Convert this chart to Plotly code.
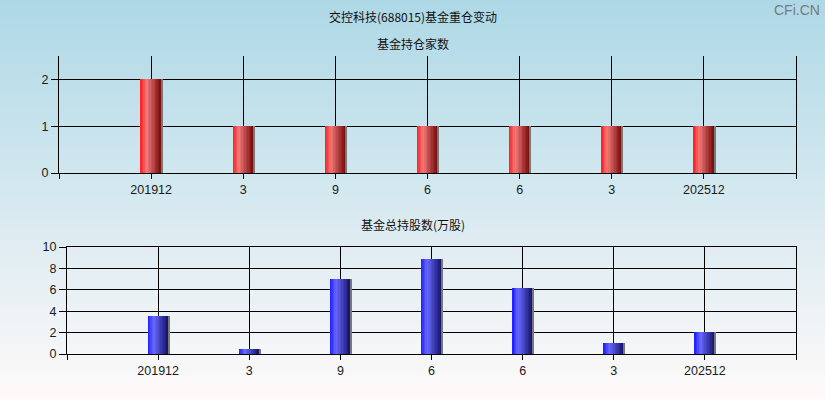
import plotly.graph_objects as go

# ---------------- data ----------------
categories = ["201912", "3", "9", "6", "6", "3", "202512"]
fund_count = [2, 1, 1, 1, 1, 1, 1]
fund_shares = [3.56, 0.47, 7.03, 8.9, 6.19, 1.03, 2.06]
count_ticks = [0, 1, 2]
shares_ticks = [0, 2, 4, 6, 8, 10]

main_title = "交控科技(688015)基金重仓变动"
title_top = "基金持仓家数"
title_bottom = "基金总持股数(万股)"
watermark = "CFi.CN"

# ---------------- styling helpers ----------------
positions = list(range(1, len(categories) + 1))
tickvals_x = list(range(0, len(categories) + 2))
ticktext_x = [""] + categories + [""]

BAR_W = 0.22
N_SLICES = 14


def lerp(c1, c2, t):
    return tuple(int(round(a + (b - a) * t)) for a, b in zip(c1, c2))


def grad_color(stops, t):
    for (p0, c0), (p1, c1) in zip(stops, stops[1:]):
        if p0 <= t <= p1:
            return lerp(c0, c1, (t - p0) / (p1 - p0))
    return stops[-1][1]


red_stops = [(0.0, (255, 25, 25)), (0.3, (242, 122, 122)), (1.0, (118, 10, 10))]
blue_stops = [(0.0, (25, 25, 255)), (0.3, (105, 105, 255)), (1.0, (18, 18, 105))]

fig = go.Figure()


def add_grad_bars(values, stops, xa, ya):
    w = BAR_W / N_SLICES
    for i in range(N_SLICES):
        t = (i + 0.5) / N_SLICES
        r, g, b = grad_color(stops, t)
        fig.add_trace(go.Bar(
            x=positions, y=values, width=w * 1.15, offset=-BAR_W / 2 + i * w,
            marker=dict(color=f"rgb({r},{g},{b})", line=dict(width=0)),
            xaxis=xa, yaxis=ya, showlegend=False, hoverinfo="skip"))
    # thin grey shadow on the right edge
    fig.add_trace(go.Bar(
        x=positions, y=values, width=0.016, offset=BAR_W / 2,
        marker=dict(color="rgb(120,120,120)", line=dict(width=0)),
        xaxis=xa, yaxis=ya, showlegend=False, hoverinfo="skip"))


add_grad_bars(fund_count, red_stops, "x", "y")
add_grad_bars(fund_shares, blue_stops, "x2", "y2")

# ---------------- background gradient ----------------
shapes = []
N_BG = 80
top_c = (173, 216, 230)
bot_c = (255, 250, 250)
for i in range(N_BG):
    t = (i + 0.5) / N_BG
    r, g, b = lerp(top_c, bot_c, t)
    shapes.append(dict(type="rect", xref="paper", yref="paper",
                       x0=0, x1=1, y0=1 - (i + 1) / N_BG - 0.001, y1=1 - i / N_BG,
                       fillcolor=f"rgb({r},{g},{b})", line=dict(width=0),
                       layer="below"))

tick_font = dict(family="Liberation Sans, Arial, sans-serif", size=12.5, color="#1a1a1a")
cjk_font = dict(family="Noto Sans CJK SC, sans-serif", size=12, color="#111111")

axis_common = dict(showline=True, linecolor="black", linewidth=1,
                   showgrid=True, gridcolor="black", gridwidth=1,
                   ticks="outside", tickcolor="black",
                   zeroline=False, tickfont=tick_font, fixedrange=True,
                   automargin=False)

fig.update_layout(
    width=825, height=400,
    margin=dict(l=0, r=0, t=0, b=0, autoexpand=False),
    paper_bgcolor="rgb(220,235,242)",
    plot_bgcolor="rgba(0,0,0,0)",
    barmode="overlay",
    bargap=0,
    shapes=shapes,
    xaxis=dict(domain=[59 / 825, 796 / 825], anchor="y", range=[0, 8],
               tickmode="array", tickvals=tickvals_x, ticktext=ticktext_x,
               ticklen=5, **axis_common),
    yaxis=dict(domain=[1 - 173 / 400, 1 - 56 / 400], anchor="x", range=[0, 2.5],
               tickmode="array", tickvals=count_ticks, mirror=True,
               ticklen=7, **axis_common),
    xaxis2=dict(domain=[67 / 825, 796 / 825], anchor="y2", range=[0, 8],
                tickmode="array", tickvals=tickvals_x, ticktext=ticktext_x,
                mirror=True, ticklen=5, **axis_common),
    yaxis2=dict(domain=[1 - 354 / 400, 1 - 247 / 400], anchor="x2", range=[0, 10],
                tickmode="array", tickvals=shares_ticks, mirror=True,
                ticklen=7, **axis_common),
    annotations=[
        dict(text=main_title, xref="paper", yref="paper", x=413 / 825, y=1 - 17 / 400,
             showarrow=False, font=cjk_font, xanchor="center", yanchor="middle"),
        dict(text=title_top, xref="paper", yref="paper", x=413 / 825, y=1 - 43 / 400,
             showarrow=False, font=cjk_font, xanchor="center", yanchor="middle"),
        dict(text=title_bottom, xref="paper", yref="paper", x=413 / 825, y=1 - 224 / 400,
             showarrow=False, font=cjk_font, xanchor="center", yanchor="middle"),
        dict(text=watermark, xref="paper", yref="paper", x=822 / 825, y=1 - 10 / 400,
             showarrow=False, xanchor="right", yanchor="middle",
             font=dict(family="Liberation Sans, Arial, sans-serif", size=14,
                       color="#7a7a7a")),
    ],
)

fig.write_html(
    "out.html",
    config={"displayModeBar": False},
    post_script=(
        "document.documentElement.style.margin='0';"
        "document.body.style.margin='0';"
        "document.body.style.overflow='hidden';"
        "var d=document.getElementById('{plot_id}');"
        "d.style.position='fixed';d.style.left='0px';d.style.top='0px';"
    ),
)
